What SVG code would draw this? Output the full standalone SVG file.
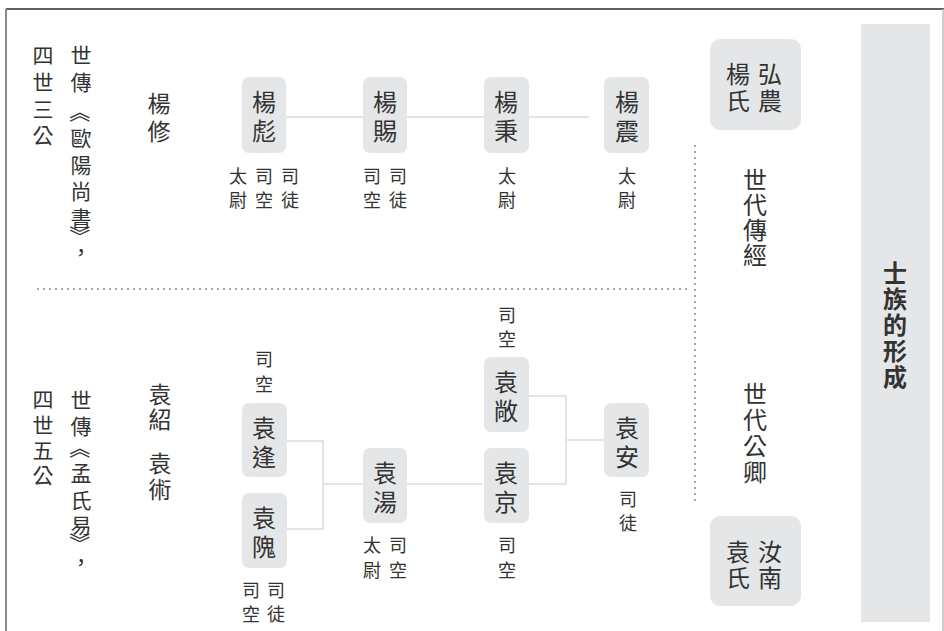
<svg xmlns="http://www.w3.org/2000/svg" width="944" height="631" viewBox="0 0 944 631">
<style>
text{font-family:"Noto Sans CJK TC","Noto Sans CJK SC",sans-serif;fill:#333;text-anchor:middle;dominant-baseline:central}
.n{font-size:24px}
.t{font-size:18px}
.l{font-size:21px}
.m{font-size:23px}
.h{font-size:24px;font-weight:bold}
.box{fill:#e5e6e8}
.c{fill:none;stroke:#e4e4e4;stroke-width:2}
.d{fill:none;stroke:#a8a8a8;stroke-width:2;stroke-dasharray:2 4}
</style>
<rect x="0" y="0" width="944" height="631" fill="#fff"/>
<g id="frame">
<line x1="6" y1="9" x2="944" y2="9" stroke="#2a2a2a" stroke-width="1.5"/>
<line x1="6" y1="9" x2="6" y2="631" stroke="#8a8a8a" stroke-width="2"/>
<line x1="943" y1="9" x2="943" y2="631" stroke="#bdbdbd" stroke-width="1.5"/>
<line class="d" x1="37" y1="289" x2="690" y2="289"/>
<line class="d" x1="695" y1="145" x2="695" y2="501"/>
</g>
<g id="connectors">
<path class="c" d="M286 117H589"/>
<path class="c" d="M287 441H323V529H287"/>
<path class="c" d="M323 484H363"/>
<path class="c" d="M407 484H483"/>
<path class="c" d="M529 396H566V484H529"/>
<path class="c" d="M566 440H604"/>
</g>
<g id="title">
<rect x="861" y="24" width="69" height="598" fill="#e5e6e8"/>
<text class="h"><tspan x="895" y="271">士</tspan><tspan x="895" y="297">族</tspan><tspan x="895" y="323">的</tspan><tspan x="895" y="349">形</tspan><tspan x="895" y="375">成</tspan></text>
</g>
<g id="label-yang">
<text class="l"><tspan x="43" y="54">四</tspan><tspan x="43" y="81">世</tspan><tspan x="43" y="108">三</tspan><tspan x="43" y="134">公</tspan></text>
<text class="l"><tspan x="81" y="54">世</tspan><tspan x="81" y="81">傳</tspan></text>
<text class="l" transform="rotate(90 81 112)" x="81" y="112">《</text>
<text class="l"><tspan x="81" y="137">歐</tspan><tspan x="81" y="164">陽</tspan><tspan x="81" y="190">尚</tspan><tspan x="81" y="217">書</tspan></text>
<text class="l" transform="rotate(90 81 236)" x="81" y="236">》</text>
<text class="l" x="81" y="251">，</text>
<text class="m"><tspan x="159" y="102">楊</tspan><tspan x="159" y="130">修</tspan></text>
</g>
<g id="label-yuan">
<text class="l"><tspan x="43" y="398">四</tspan><tspan x="43" y="424">世</tspan><tspan x="43" y="449">五</tspan><tspan x="43" y="474">公</tspan></text>
<text class="l"><tspan x="81" y="399">世</tspan><tspan x="81" y="425">傳</tspan></text>
<text class="l" transform="rotate(90 81 448)" x="81" y="448">《</text>
<text class="l"><tspan x="81" y="472">孟</tspan><tspan x="81" y="499">氏</tspan><tspan x="81" y="524">易</tspan></text>
<text class="l" transform="rotate(90 81 543)" x="81" y="543">》</text>
<text class="l" x="81" y="561">，</text>
<text class="m"><tspan x="160" y="393">袁</tspan><tspan x="160" y="418">紹</tspan><tspan x="160" y="462">袁</tspan><tspan x="160" y="488">術</tspan></text>
</g>
<g id="hongnong">
<rect class="box" x="710" y="39" width="91" height="91" rx="10"/>
<text class="n"><tspan x="770" y="72">弘</tspan><tspan x="770" y="99">農</tspan><tspan x="738" y="72">楊</tspan><tspan x="738" y="99">氏</tspan></text>
</g>
<g id="shidai-chuanjing">
<text class="n"><tspan x="755" y="178">世</tspan><tspan x="755" y="203">代</tspan><tspan x="755" y="228">傳</tspan><tspan x="755" y="253">經</tspan></text>
</g>
<g id="shidai-gongqing">
<text class="n"><tspan x="755" y="392">世</tspan><tspan x="755" y="418">代</tspan><tspan x="755" y="444">公</tspan><tspan x="755" y="470">卿</tspan></text>
</g>
<g id="runan">
<rect class="box" x="710" y="516" width="91" height="90" rx="10"/>
<text class="n"><tspan x="770" y="550">汝</tspan><tspan x="770" y="576">南</tspan><tspan x="738" y="550">袁</tspan><tspan x="738" y="576">氏</tspan></text>
</g>
<g id="yang-biao">
<rect class="box" x="242" y="77" width="44" height="76" rx="7"/>
<text class="n"><tspan x="264" y="100">楊</tspan><tspan x="264" y="129">彪</tspan></text>
<text class="t"><tspan x="290" y="175">司</tspan><tspan x="290" y="199">徒</tspan><tspan x="264" y="175">司</tspan><tspan x="264" y="199">空</tspan><tspan x="238" y="175">太</tspan><tspan x="238" y="199">尉</tspan></text>
</g>
<g id="yang-ci">
<rect class="box" x="363" y="77" width="44" height="76" rx="7"/>
<text class="n"><tspan x="385" y="100">楊</tspan><tspan x="385" y="129">賜</tspan></text>
<text class="t"><tspan x="398" y="175">司</tspan><tspan x="398" y="199">徒</tspan><tspan x="372" y="175">司</tspan><tspan x="372" y="199">空</tspan></text>
</g>
<g id="yang-bing">
<rect class="box" x="484" y="77" width="45" height="76" rx="7"/>
<text class="n"><tspan x="506" y="100">楊</tspan><tspan x="506" y="129">秉</tspan></text>
<text class="t"><tspan x="507" y="175">太</tspan><tspan x="507" y="199">尉</tspan></text>
</g>
<g id="yang-zhen">
<rect class="box" x="604" y="77" width="45" height="76" rx="7"/>
<text class="n"><tspan x="627" y="100">楊</tspan><tspan x="627" y="129">震</tspan></text>
<text class="t"><tspan x="627" y="175">太</tspan><tspan x="627" y="199">尉</tspan></text>
</g>
<g id="yuan-feng">
<rect class="box" x="242" y="403" width="45" height="74" rx="7"/>
<text class="n"><tspan x="264" y="426">袁</tspan><tspan x="264" y="455">逢</tspan></text>
<text class="t"><tspan x="264" y="358">司</tspan><tspan x="264" y="383">空</tspan></text>
</g>
<g id="yuan-wei">
<rect class="box" x="242" y="493" width="45" height="75" rx="7"/>
<text class="n"><tspan x="264" y="516">袁</tspan><tspan x="264" y="545">隗</tspan></text>
<text class="t"><tspan x="276" y="589">司</tspan><tspan x="276" y="613">徒</tspan><tspan x="251" y="589">司</tspan><tspan x="251" y="613">空</tspan></text>
</g>
<g id="yuan-tang">
<rect class="box" x="363" y="448" width="44" height="75" rx="7"/>
<text class="n"><tspan x="385" y="471">袁</tspan><tspan x="385" y="500">湯</tspan></text>
<text class="t"><tspan x="398" y="544">司</tspan><tspan x="398" y="569">空</tspan><tspan x="372" y="544">太</tspan><tspan x="372" y="569">尉</tspan></text>
</g>
<g id="yuan-chang">
<rect class="box" x="484" y="357" width="45" height="75" rx="7"/>
<text class="n"><tspan x="506" y="380">袁</tspan><tspan x="506" y="409">敞</tspan></text>
<text class="t"><tspan x="507" y="314">司</tspan><tspan x="507" y="338">空</tspan></text>
</g>
<g id="yuan-jing">
<rect class="box" x="484" y="448" width="45" height="75" rx="7"/>
<text class="n"><tspan x="506" y="471">袁</tspan><tspan x="506" y="500">京</tspan></text>
<text class="t"><tspan x="507" y="544">司</tspan><tspan x="507" y="569">空</tspan></text>
</g>
<g id="yuan-an">
<rect class="box" x="604" y="403" width="45" height="74" rx="7"/>
<text class="n"><tspan x="627" y="426">袁</tspan><tspan x="627" y="455">安</tspan></text>
<text class="t"><tspan x="628" y="498">司</tspan><tspan x="628" y="522">徒</tspan></text>
</g>
</svg>
